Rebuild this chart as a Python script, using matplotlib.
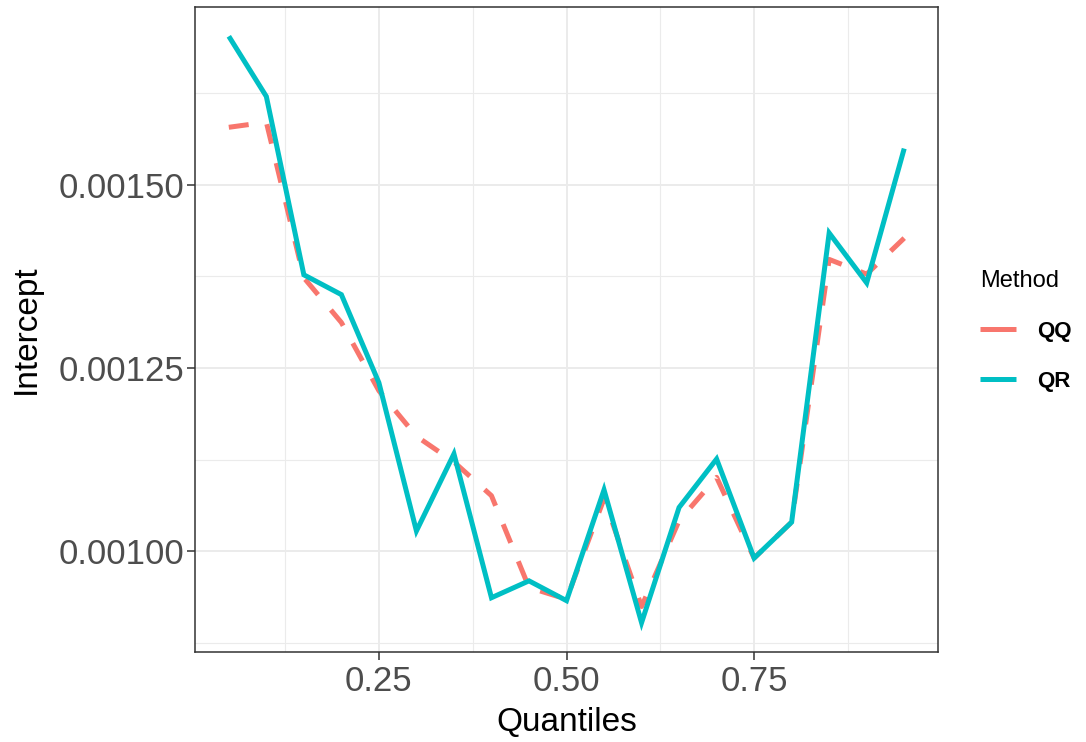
import matplotlib
matplotlib.use("Agg")
import matplotlib.pyplot as plt
from matplotlib.lines import Line2D
from matplotlib.ticker import FixedLocator

plt.rcParams['font.family'] = ['Liberation Sans', 'DejaVu Sans']

quantiles = [0.05, 0.10, 0.15, 0.20, 0.25, 0.30, 0.35, 0.40, 0.45, 0.50,
             0.55, 0.60, 0.65, 0.70, 0.75, 0.80, 0.85, 0.90, 0.95]
qq_values = [0.001578, 0.001585, 0.001373, 0.001312, 0.001219, 0.001157, 0.001122,
             0.001076, 0.000951, 0.000935, 0.001072, 0.000925, 0.001042, 0.001101,
             0.000991, 0.001040, 0.001398, 0.001378, 0.001427]
qr_values = [0.001702, 0.001620, 0.001377, 0.001350, 0.001230, 0.001028, 0.001133,
             0.000937, 0.000960, 0.000933, 0.001084, 0.000903, 0.001060, 0.001126,
             0.000991, 0.001040, 0.001434, 0.001366, 0.001549]
methods = ["QQ", "QR"]
colors = {"QQ": "#F8766D", "QR": "#00BFC4"}
x_ticks = [0.25, 0.50, 0.75]
x_ticklabels = ["0.25", "0.50", "0.75"]
y_ticks = [0.00100, 0.00125, 0.00150]
y_ticklabels = ["0.00100", "0.00125", "0.00150"]

fig = plt.figure(figsize=(10.86, 7.42), dpi=100)
ax = fig.add_axes([0.1796, 0.1213, 0.8637 - 0.1796, 0.9906 - 0.1213])

lw = 3.6
ax.plot(quantiles, qq_values, color=colors["QQ"], lw=lw, linestyle=(0, (4.0, 4.0)),
        solid_joinstyle='miter', dash_capstyle='butt', zorder=3)
ax.plot(quantiles, qr_values, color=colors["QR"], lw=lw, linestyle='-',
        solid_joinstyle='miter', solid_capstyle='butt', zorder=4)

# ggplot-like expansion
xr = max(quantiles) - min(quantiles)
ax.set_xlim(min(quantiles) - 0.05 * xr, max(quantiles) + 0.05 * xr)
allv = qq_values + qr_values
yr = max(allv) - min(allv)
ax.set_ylim(min(allv) - 0.05 * yr, max(allv) + 0.05 * yr)

ax.xaxis.set_major_locator(FixedLocator(x_ticks))
ax.set_xticklabels(x_ticklabels)
ax.xaxis.set_minor_locator(FixedLocator([0.125, 0.375, 0.625, 0.875]))
ax.yaxis.set_major_locator(FixedLocator(y_ticks))
ax.set_yticklabels(y_ticklabels)
ax.yaxis.set_minor_locator(FixedLocator([0.000875, 0.001125, 0.001375, 0.001625]))

ax.grid(which='major', color='#EBEBEB', lw=1.4, zorder=0)
ax.grid(which='minor', color='#EBEBEB', lw=0.8, zorder=0)
ax.set_axisbelow(True)

for s in ax.spines.values():
    s.set_color('#333333')
    s.set_linewidth(1.1)

ax.tick_params(which='major', length=5.5, width=1.1, color='#333333',
               labelcolor='#4D4D4D', labelsize=25)
ax.tick_params(axis='y', which='major', pad=2.5)
ax.tick_params(axis='x', which='major', pad=4)
ax.tick_params(which='minor', length=0)

ax.set_xlabel("Quantiles", fontsize=24, color='black', labelpad=6)
ax.set_ylabel("Intercept", fontsize=24, color='black', labelpad=12)

handles = [Line2D([], [], color=colors[m], lw=lw, solid_capstyle='butt') for m in methods]
leg = fig.legend(handles, methods, loc='upper left', bbox_to_anchor=(0.884, 0.663),
                 frameon=False, title="Method", title_fontsize=17,
                 prop={'size': 16, 'weight': 'bold'}, handlelength=1.6,
                 handletextpad=0.95, labelspacing=1.3)
leg._legend_box.align = "left"

fig.savefig("out.png", dpi=100)
